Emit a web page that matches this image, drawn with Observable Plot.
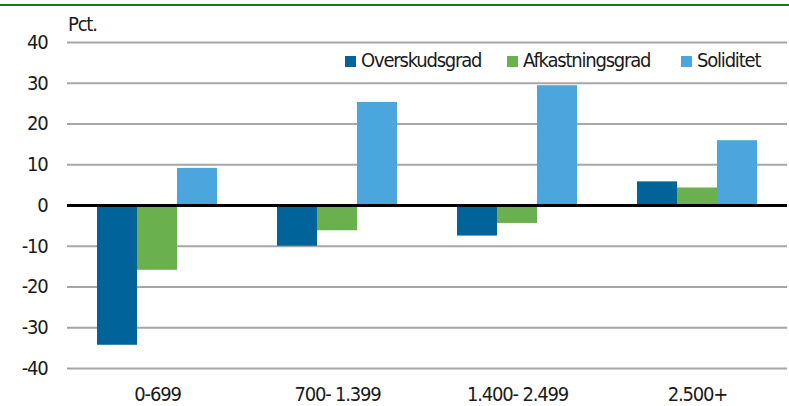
<!DOCTYPE html>
<html>
<head>
<meta charset="utf-8">
<script src="https://cdn.jsdelivr.net/npm/d3@7"></script>
<script src="https://cdn.jsdelivr.net/npm/@observablehq/plot@0.6"></script>
<style>
  html, body { margin: 0; padding: 0; background: #fff; }
  #wrap { position: relative; width: 789px; height: 406px; overflow: hidden;
    font-family: "Liberation Sans Narrow", "DejaVu Sans Condensed", "Open Sans", sans-serif; color: #1a1a1a; letter-spacing: -1.2px; }
  #topline { position: absolute; left: 0; top: 4px; width: 789px; height: 2px; background: #137a2a; }
  #wrap svg { position: absolute; left: 0; top: 0; }
  .lbl { position: absolute; font-size: 20px; line-height: 20px; white-space: nowrap; }
  .sw { position: absolute; width: 11px; height: 11px; }
</style>
</head>
<body>
<div id="wrap"><div id="topline"></div></div>
<script>
const categories = ["0-699", "700- 1.399", "1.400- 2.499", "2.500+"];
const seriesNames = ["Overskudsgrad", "Afkastningsgrad", "Soliditet"];
const overskudsgrad = [-34.3, -10.0, -7.5, 5.8];
const afkastningsgrad = [-15.9, -6.2, -4.4, 4.3];
const soliditet = [9.1, 25.3, 29.4, 15.9];
const yTicks = [-40, -30, -20, -10, 0, 10, 20, 30, 40];
const colors = ["#00649a", "#6ab04f", "#4ba6de"];
const yUnit = "Pct.";

const valuesBySeries = [overskudsgrad, afkastningsgrad, soliditet];
const data = [];
categories.forEach((c, i) => seriesNames.forEach((s, j) => data.push({cat: c, series: s, value: valuesBySeries[j][i]})));

const font = '"Liberation Sans Narrow", "DejaVu Sans Condensed", "Open Sans", sans-serif';
const chart = Plot.plot({
  width: 789,
  height: 406,
  marginTop: 42,
  marginBottom: 38,
  marginLeft: 67,
  marginRight: 2,
  style: {fontFamily: font, fontSize: "20px", letterSpacing: "-1.2px", color: "#1a1a1a", background: "transparent", overflow: "visible"},
  facet: {data, x: "cat"},
  fx: {domain: categories, paddingInner: 1/3, paddingOuter: 1/6, axis: "bottom", label: null, tickSize: 0, tickPadding: 18},
  x: {domain: seriesNames, axis: null, paddingInner: 0, paddingOuter: 0},
  y: {domain: [-40, 40], ticks: yTicks, tickSize: 0, tickPadding: 50, label: null, tickFormat: d => String(d)},
  color: {domain: seriesNames, range: colors},
  marks: [
    Plot.ruleY(yTicks.filter(d => d !== 0), {stroke: "#a6a6a6", strokeWidth: 2, insetLeft: -30, insetRight: -30}),
    Plot.barY(data, {x: "series", y: "value", fill: "series"}),
    Plot.ruleY([0], {stroke: "#000", strokeWidth: 3, insetLeft: -30, insetRight: -30})
  ]
});
const wrap = document.getElementById("wrap");
wrap.appendChild(chart);

function addLabel(text, left, top) {
  const d = document.createElement("div");
  d.className = "lbl"; d.textContent = text;
  d.style.left = left + "px"; d.style.top = top + "px";
  wrap.appendChild(d);
  return d;
}
addLabel(yUnit, 68, 14);
const legendX = [345, 507, 681];
seriesNames.forEach((s, i) => {
  const sw = document.createElement("div");
  sw.className = "sw"; sw.style.background = colors[i];
  sw.style.left = legendX[i] + "px"; sw.style.top = "56px";
  wrap.appendChild(sw);
  addLabel(s, legendX[i] + 16, 50);
});
</script>
</body>
</html>
